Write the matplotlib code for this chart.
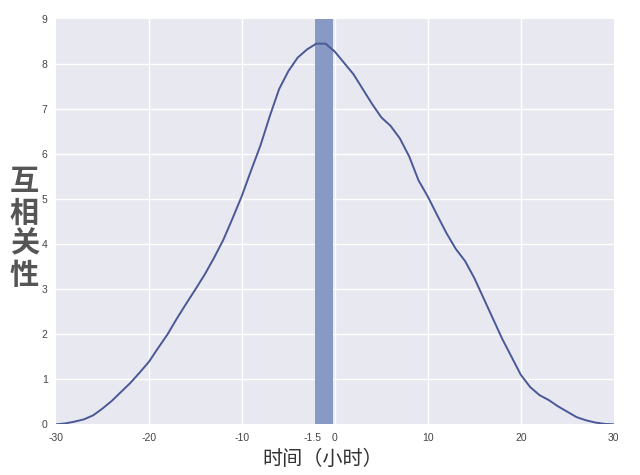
import matplotlib
matplotlib.use("Agg")
import matplotlib.pyplot as plt
import matplotlib.transforms as mtransforms

plt.rcParams['font.family'] = ['Liberation Sans', 'Noto Sans CJK SC', 'DejaVu Sans']

# data
lag_hours = [-30, -29, -28, -27, -26, -25, -24, -23, -22, -21, -20, -19, -18, -17, -16, -15, -14, -13, -12, -11,
             -10, -9, -8, -7, -6, -5, -4, -3, -2, -1,
             0, 1, 2, 3, 4, 5, 6, 7, 8, 9, 10, 11, 12, 13, 14, 15, 16, 17, 18, 19, 20,
             21, 22, 23, 24, 25, 26, 27, 28, 29, 30]
correlation = [0.0, 0.02, 0.06, 0.11, 0.2, 0.35, 0.52, 0.72, 0.92, 1.15, 1.39, 1.7, 2.0, 2.35, 2.68, 3.0, 3.33, 3.7, 4.1, 4.58,
               5.08, 5.65, 6.2, 6.85, 7.45, 7.85, 8.15, 8.33, 8.46, 8.46,
               8.28, 8.03, 7.78, 7.45, 7.12, 6.82, 6.63, 6.35, 5.95, 5.42, 5.06, 4.65, 4.25, 3.9, 3.63, 3.25, 2.8, 2.35, 1.9, 1.5, 1.1,
               0.83, 0.65, 0.54, 0.4, 0.28, 0.16, 0.09, 0.04, 0.01, 0.0]
band_start, band_end = -2.1, -0.2
x_ticks = [-30, -20, -10, -1.5, 0, 10, 20, 30]
x_tick_labels = ['-30', '-20', '-10', '-1.5', '0', '10', '20', '30']
y_ticks = [0, 1, 2, 3, 4, 5, 6, 7, 8, 9]
x_label = '时间（小时）'
y_label = '互\n相\n关\n性'

fig = plt.figure(figsize=(6.4, 4.75), dpi=100)
ax = fig.add_axes([0.0875, 0.1067, 0.8715, 0.8526])
ax.set_facecolor('#E8E8F1')
for s in ax.spines.values():
    s.set_visible(False)

ax.set_xlim(-30, 30)
ax.set_ylim(0, 9)

# grid lines (skip -1.5 tick)
for gx in [-20, -10, 0, 10, 20]:
    ax.axvline(gx, color='white', lw=1.0, zorder=1)
for gy in y_ticks[1:-1]:
    ax.axhline(gy, color='white', lw=1.0, zorder=1)

ax.axvspan(band_start, band_end, color='#8395C4', alpha=0.95, zorder=2, lw=0)
ax.plot(lag_hours, correlation, color='#4A5896', lw=1.4, zorder=3)

ax.set_xticks(x_ticks)
ax.set_xticklabels(x_tick_labels)
ax.set_yticks(y_ticks)
ax.tick_params(axis='both', length=0, labelsize=7.5, labelcolor='#444444', pad=6)

# nudge -1.5 label left to avoid overlap with 0
for lbl in ax.get_xticklabels():
    if lbl.get_text() == '-1.5':
        lbl.set_transform(lbl.get_transform() + mtransforms.ScaledTranslation(-8/100, 0, fig.dpi_scale_trans))

fig.text(0.505, 0.032, x_label, ha='center', va='center', fontsize=14.5,
         color='#333333', family=['Noto Sans CJK SC', 'DejaVu Sans'])
fig.text(0.038, 0.52, y_label, ha='center', va='center', fontsize=21, fontweight='bold',
         color='#555555', linespacing=1.05, family=['Noto Sans CJK SC', 'DejaVu Sans'])

fig.savefig('out.png', dpi=100, facecolor='white')
